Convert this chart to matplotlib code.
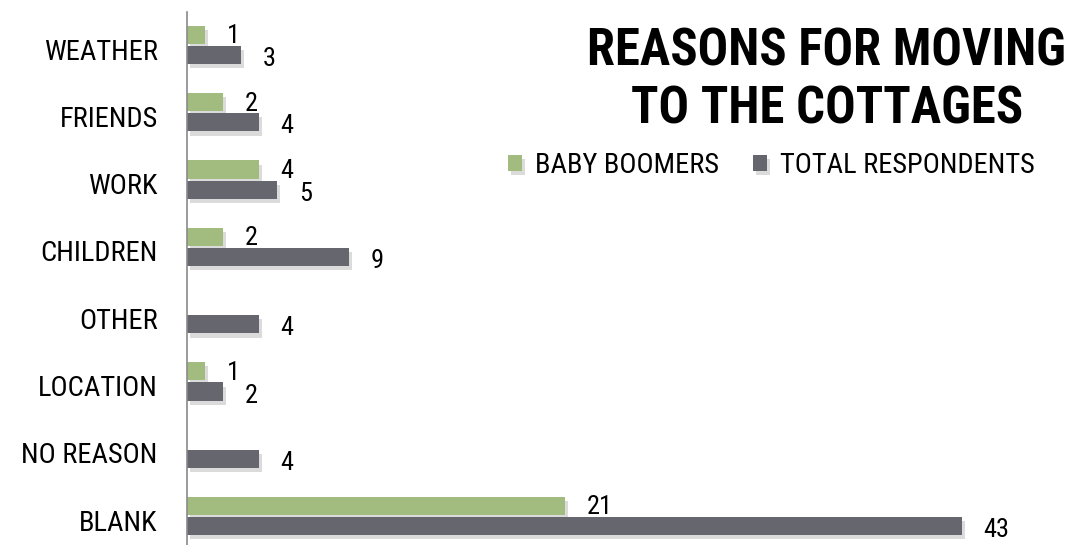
import matplotlib
matplotlib.use("Agg")
import matplotlib.pyplot as plt
import matplotlib.patheffects as pe
import numpy as np

# reasons for moving, listed top to bottom
reasons = ['WEATHER', 'FRIENDS', 'WORK', 'CHILDREN', 'OTHER', 'LOCATION', 'NO REASON', 'BLANK']
boomers = [1, 2, 4, 2, 0, 1, 0, 21]
total = [3, 4, 5, 9, 4, 2, 4, 43]

green = '#a2bb7e'
grey = '#66666e'

plt.rcParams['font.family'] = ['Roboto Condensed', 'DejaVu Sans']

fig = plt.figure(figsize=(10.88, 5.45), dpi=100)
ax = fig.add_axes([187 / 1088, 0.0, 865 / 1088, 533 / 545])

y = np.arange(len(reasons))
h = 0.27
off = 0.3
shadow = [pe.SimplePatchShadow(offset=(2, -3), shadow_rgbFace='#999999', alpha=0.35), pe.Normal()]

b1 = ax.barh(y - off / 2, boomers, height=h, color=green, label='BABY BOOMERS')
b2 = ax.barh(y + off / 2, total, height=h, color=grey, label='TOTAL RESPONDENTS')
for bar in list(b1) + list(b2):
    if bar.get_width() > 0:
        bar.set_path_effects(shadow)

# value labels next to each bar, skip the zero ones
for i in range(len(reasons)):
    if boomers[i] > 0:
        ax.text(boomers[i] + 1.2, y[i] - off / 2 + 0.02, str(boomers[i]), fontsize=19,
                ha='left', va='center')
    ax.text(total[i] + 1.2, y[i] + off / 2 + 0.06, str(total[i]), fontsize=19,
            ha='left', va='center')

ax.set_xlim(0, 48)
ax.set_ylim(7.43, -0.49)
ax.set_yticks(y + 0.06)
ax.set_yticklabels(reasons, fontsize=20.5)
ax.tick_params(axis='y', length=0, pad=21)
ax.set_xticks([])
for s in ['top', 'right', 'bottom']:
    ax.spines[s].set_visible(False)
ax.spines['left'].set_color('#8a8a8a')
ax.spines['left'].set_linewidth(1.2)

fig.text(0.760, 0.852, 'REASONS FOR MOVING\nTO THE COTTAGES', fontsize=36.5, fontweight='bold',
         ha='center', va='center', linespacing=1.2)

ax.legend(loc='center', bbox_to_anchor=(0.709, 0.696), bbox_transform=fig.transFigure,
          ncol=2, frameon=False, fontsize=20.5, handlelength=0.5, handleheight=0.5,
          handletextpad=0.45, columnspacing=1.2)

fig.savefig('out.png', dpi=100)
